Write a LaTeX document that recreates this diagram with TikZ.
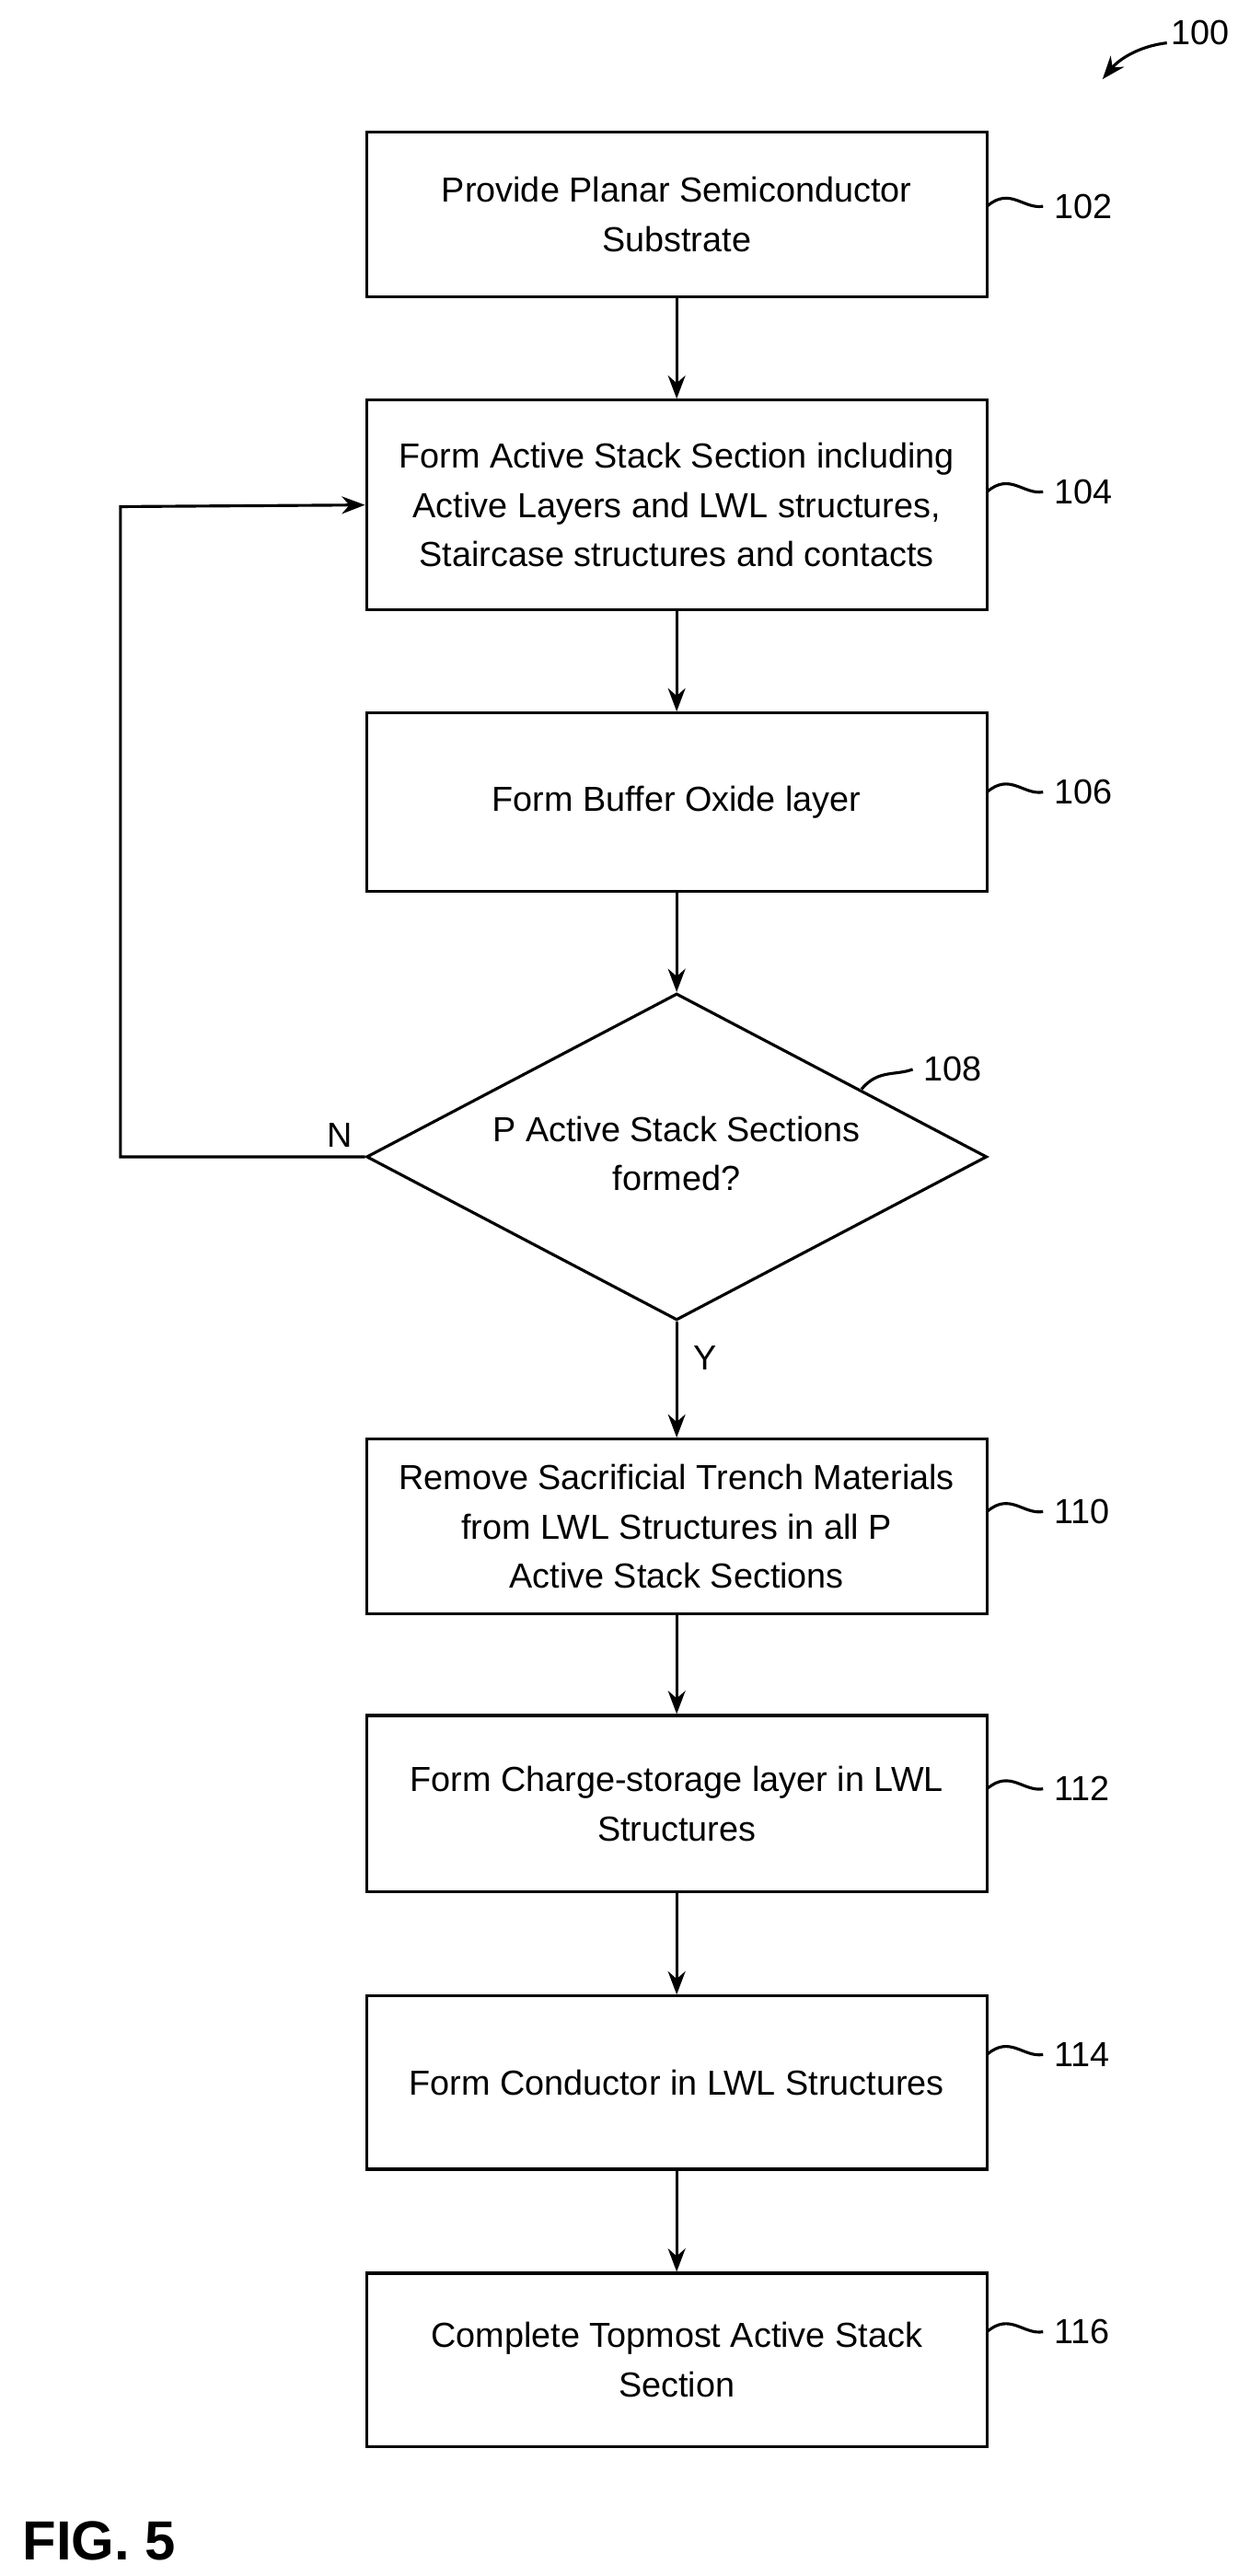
\documentclass[tikz,border=0pt]{standalone}
\usepackage{fontspec}
\setmainfont{Liberation Sans}
\usetikzlibrary{shapes.geometric,arrows.meta}
\begin{document}
\begin{tikzpicture}[x=0.02cm,y=-0.02cm,line width=1pt,
  stepbox/.style={rectangle, draw, minimum width=7.52cm, align=center, font=\fontsize{12}{17}\selectfont},
  decbox/.style={diamond, draw, minimum width=7.52cm, minimum height=3.96cm, inner sep=0pt},
  reflab/.style={anchor=west, font=\fontsize{12}{14}\selectfont},
  flow/.style={-{Stealth[length=8pt,width=6pt]}}]
\useasboundingbox (0,0) rectangle (750,1561);

\node[stepbox, minimum height=2cm] (prov) at (410,130) {Provide Planar Semiconductor\\Substrate};
\node[stepbox, minimum height=2.54cm] (stack) at (410,306) {Form Active Stack Section including\\Active Layers and LWL structures,\\Staircase structures and contacts};
\node[stepbox, minimum height=2.16cm] (buffer) at (410,486) {Form Buffer Oxide layer};
\node[decbox] (check) at (410,701) {};
\node[align=center, font=\fontsize{12}{17}\selectfont] (checktxt) at (410,699) {P Active Stack Sections\\formed?};
\node[stepbox, minimum height=2.12cm] (remove) at (410,925) {Remove Sacrificial Trench Materials\\from LWL Structures in all P\\Active Stack Sections};
\node[stepbox, minimum height=2.14cm] (charge) at (410,1093) {Form Charge-storage layer in LWL\\Structures};
\node[stepbox, minimum height=2.1cm] (cond) at (410,1262) {Form Conductor in LWL Structures};
\node[stepbox, minimum height=2.1cm] (top) at (410,1430) {Complete Topmost Active Stack\\Section};

% connectors
\draw[flow] (prov) -- (stack);
\draw[flow] (stack) -- (buffer);
\draw[flow] (buffer) -- (check);
\draw[flow] (check) -- (remove);
\draw[flow] (remove) -- (charge);
\draw[flow] (charge) -- (cond);
\draw[flow] (cond) -- (top);
\coordinate (loop) at (73,307);
\draw[flow] (check.west) -| (loop) -- (stack.west);
\node[font=\fontsize{12}{14}\selectfont] (nlab) at (206,688) {N};
\node[font=\fontsize{12}{14}\selectfont] (ylab) at (427,823) {Y};

% reference numerals
\node[reflab] (r102) at (632,125) {102};
\node[reflab] (r104) at (632,298) {104};
\node[reflab] (r106) at (632,480) {106};
\node[reflab] (r108) at (553,648) {108};
\node[reflab] (r110) at (632,916) {110};
\node[reflab] (r112) at (632,1084) {112};
\node[reflab] (r114) at (632,1245) {114};
\node[reflab] (r116) at (632,1413) {116};
\foreach \r/\y in {r102/125,r104/298,r106/480,r110/916,r112/1084,r114/1245,r116/1413}
  \draw (598,\y) .. controls (612,\y-12) and (620,\y+2) .. (\r.west);
\draw (522,660) .. controls (532,648) and (542,652) .. (r108.west);
\node[font=\fontsize{12}{14}\selectfont] (r100) at (727,20) {100};
\draw[flow] (707,26) .. controls (690,28) and (678,36) .. (668,48);

\node[font=\bfseries\fontsize{19}{22}\selectfont] (fig) at (60,1540) {FIG. 5};
\end{tikzpicture}
\end{document}
